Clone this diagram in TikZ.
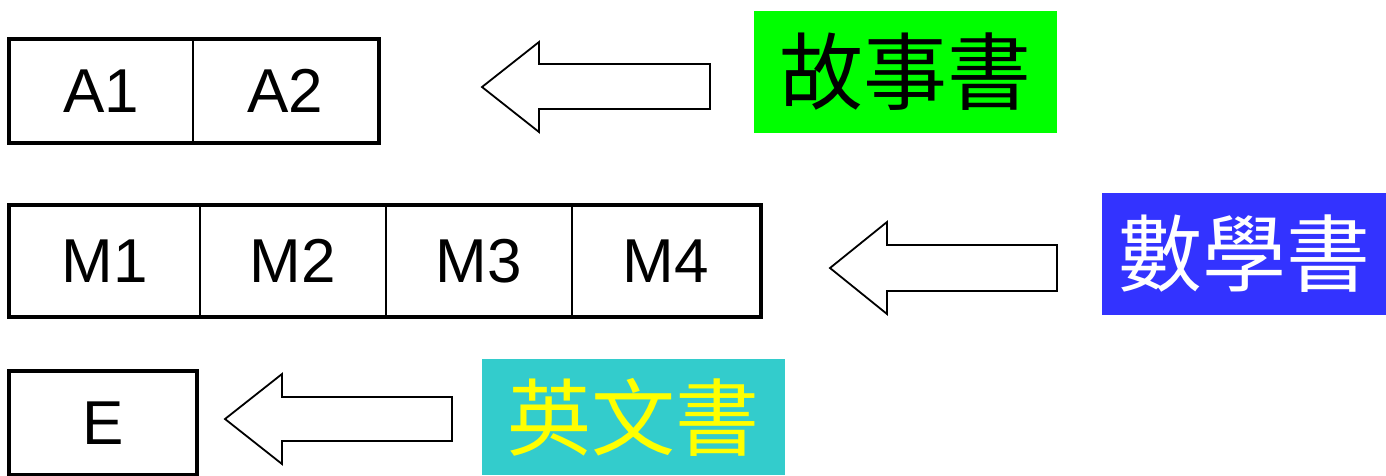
\documentclass[tikz,border=0pt]{standalone}
\usepackage{fontspec}
\setmainfont{Liberation Sans}
\newfontfamily\cjk{Noto Sans CJK TC}
\begin{document}
\begin{tikzpicture}[x=1pt,y=-1pt,
  cell/.style={draw=black,line width=1.6pt,inner sep=0pt,font=\fontsize{62}{62}\selectfont},
  frame/.style={draw=black,line width=4.5pt},
  bigarrow/.style={draw=black,line width=1.8pt,fill=white,line join=miter},
  label/.style={inner sep=0pt,font=\cjk\fontsize{84}{84}\selectfont}]
\useasboundingbox (0,0) rectangle (1386,475);
% row A
\node[cell,minimum width=183pt,minimum height=102pt] (a1) at (101.5,91) {A1};
\node[cell,minimum width=185pt,minimum height=102pt] (a2) at (285.5,91) {A2};
\draw[frame] (a1.north west) rectangle (a2.south east);
% row M
\node[cell,minimum width=190pt,minimum height=110pt] (m1) at (105,261) {M1};
\node[cell,minimum width=186pt,minimum height=110pt] (m2) at (293,261) {M2};
\node[cell,minimum width=186pt,minimum height=110pt] (m3) at (479,261) {M3};
\node[cell,minimum width=188pt,minimum height=110pt] (m4) at (666,261) {M4};
\draw[frame] (m1.north west) rectangle (m4.south east);
% row E
\node[cell,minimum width=186pt,minimum height=102pt] (e) at (103,423) {E};
\draw[frame] (e.north west) rectangle (e.south east);
% labels
\node[label,fill={rgb,255:red,0;green,255;blue,0},text=black,minimum width=303pt,minimum height=122pt] (story) at (905.5,72) {故事書};
\node[label,fill={rgb,255:red,51;green,51;blue,255},text=white,minimum width=284pt,minimum height=122pt] (math) at (1244,254) {數學書};
\node[label,fill={rgb,255:red,51;green,204;blue,204},text={rgb,255:red,255;green,255;blue,0},minimum width=303pt,minimum height=116pt] (eng) at (633.5,417) {英文書};
% arrows
\draw[bigarrow] (482,87) -- (539,42) -- (539,64) -- (710,64) -- (710,109) -- (539,109) -- (539,132) -- cycle;
\draw[bigarrow] (830,268) -- (887,222) -- (887,245) -- (1057,245) -- (1057,291) -- (887,291) -- (887,314) -- cycle;
\draw[bigarrow] (225,419) -- (282,374) -- (282,397) -- (452,397) -- (452,441) -- (282,441) -- (282,464) -- cycle;
\end{tikzpicture}
\end{document}
